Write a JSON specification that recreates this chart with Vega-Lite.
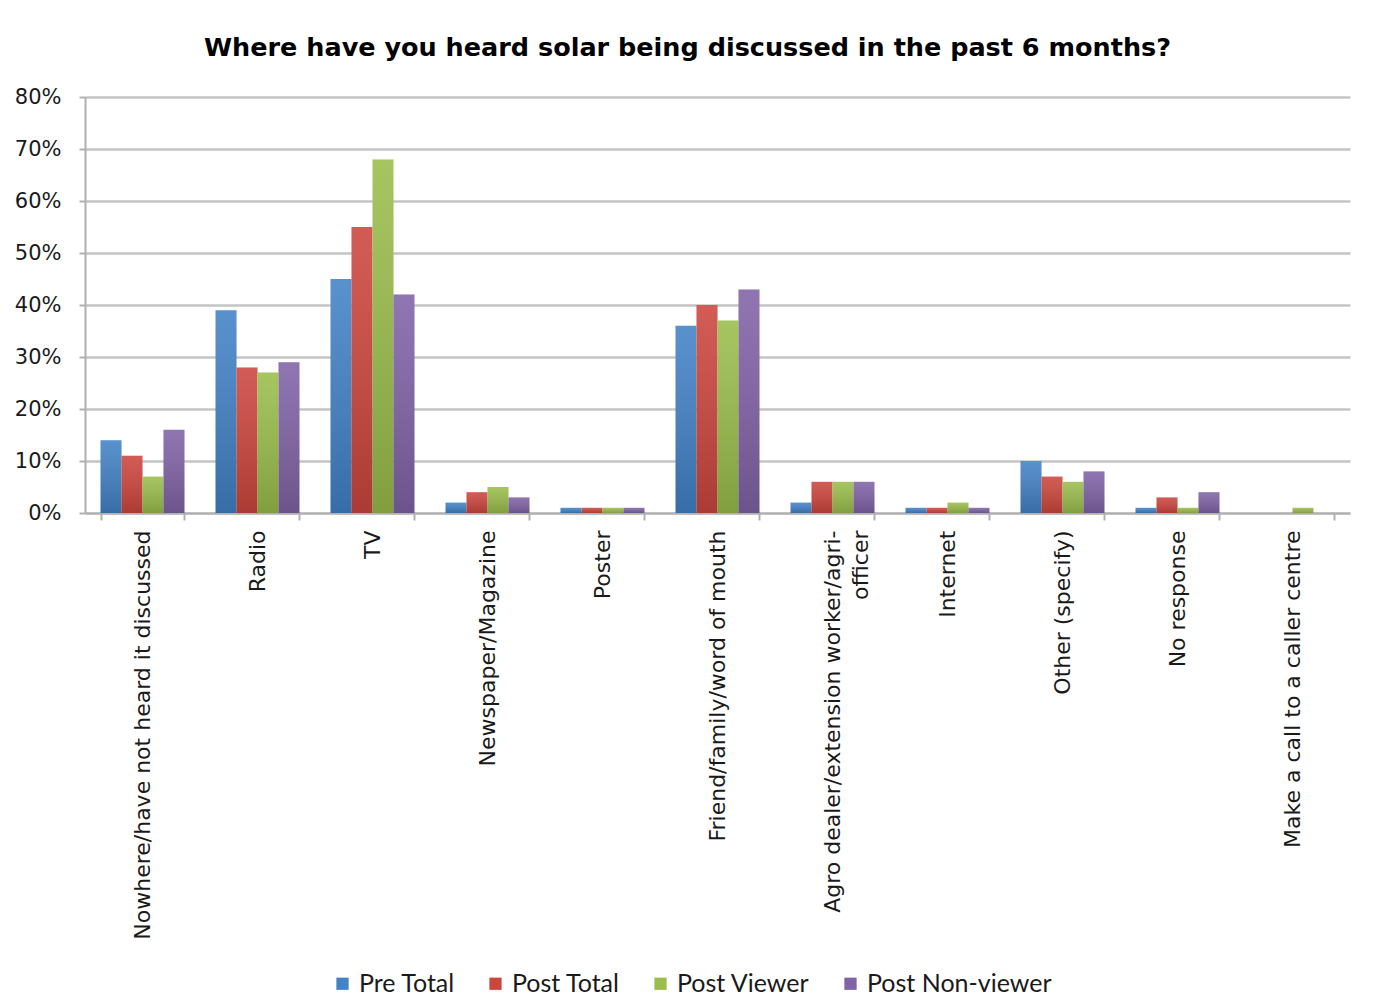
{
  "$schema": "https://vega.github.io/schema/vega-lite/v6.json",
  "autosize": {"type": "none"},
  "width": 1265,
  "height": 416,
  "padding": {"left": 85, "top": 97, "right": 23, "bottom": 495},
  "background": "white",
  "title": {
    "text": "Where have you heard solar being discussed in the past 6 months?",
    "font": "DejaVu Sans",
    "fontSize": 25.5,
    "fontWeight": "bold",
    "color": "#000000",
    "anchor": "middle",
    "dx": -30,
    "offset": 25
  },
  "data": {
    "values": [
      {"cat": "Nowhere/have not heard it discussed", "series": "Pre Total", "v": 0.14},
      {"cat": "Nowhere/have not heard it discussed", "series": "Post Total", "v": 0.11},
      {"cat": "Nowhere/have not heard it discussed", "series": "Post Viewer", "v": 0.07},
      {"cat": "Nowhere/have not heard it discussed", "series": "Post Non-viewer", "v": 0.16},
      {"cat": "Radio", "series": "Pre Total", "v": 0.39},
      {"cat": "Radio", "series": "Post Total", "v": 0.28},
      {"cat": "Radio", "series": "Post Viewer", "v": 0.27},
      {"cat": "Radio", "series": "Post Non-viewer", "v": 0.29},
      {"cat": "TV", "series": "Pre Total", "v": 0.45},
      {"cat": "TV", "series": "Post Total", "v": 0.55},
      {"cat": "TV", "series": "Post Viewer", "v": 0.68},
      {"cat": "TV", "series": "Post Non-viewer", "v": 0.42},
      {"cat": "Newspaper/Magazine", "series": "Pre Total", "v": 0.02},
      {"cat": "Newspaper/Magazine", "series": "Post Total", "v": 0.04},
      {"cat": "Newspaper/Magazine", "series": "Post Viewer", "v": 0.05},
      {"cat": "Newspaper/Magazine", "series": "Post Non-viewer", "v": 0.03},
      {"cat": "Poster", "series": "Pre Total", "v": 0.01},
      {"cat": "Poster", "series": "Post Total", "v": 0.01},
      {"cat": "Poster", "series": "Post Viewer", "v": 0.01},
      {"cat": "Poster", "series": "Post Non-viewer", "v": 0.01},
      {"cat": "Friend/family/word of mouth", "series": "Pre Total", "v": 0.36},
      {"cat": "Friend/family/word of mouth", "series": "Post Total", "v": 0.40},
      {"cat": "Friend/family/word of mouth", "series": "Post Viewer", "v": 0.37},
      {"cat": "Friend/family/word of mouth", "series": "Post Non-viewer", "v": 0.43},
      {"cat": "Agro dealer/extension worker/agri-officer", "series": "Pre Total", "v": 0.02},
      {"cat": "Agro dealer/extension worker/agri-officer", "series": "Post Total", "v": 0.06},
      {"cat": "Agro dealer/extension worker/agri-officer", "series": "Post Viewer", "v": 0.06},
      {"cat": "Agro dealer/extension worker/agri-officer", "series": "Post Non-viewer", "v": 0.06},
      {"cat": "Internet", "series": "Pre Total", "v": 0.01},
      {"cat": "Internet", "series": "Post Total", "v": 0.01},
      {"cat": "Internet", "series": "Post Viewer", "v": 0.02},
      {"cat": "Internet", "series": "Post Non-viewer", "v": 0.01},
      {"cat": "Other  (specify)", "series": "Pre Total", "v": 0.10},
      {"cat": "Other  (specify)", "series": "Post Total", "v": 0.07},
      {"cat": "Other  (specify)", "series": "Post Viewer", "v": 0.06},
      {"cat": "Other  (specify)", "series": "Post Non-viewer", "v": 0.08},
      {"cat": "No response", "series": "Pre Total", "v": 0.01},
      {"cat": "No response", "series": "Post Total", "v": 0.03},
      {"cat": "No response", "series": "Post Viewer", "v": 0.01},
      {"cat": "No response", "series": "Post Non-viewer", "v": 0.04},
      {"cat": "Make a call to a caller centre", "series": "Pre Total", "v": 0.0},
      {"cat": "Make a call to a caller centre", "series": "Post Total", "v": 0.0},
      {"cat": "Make a call to a caller centre", "series": "Post Viewer", "v": 0.01},
      {"cat": "Make a call to a caller centre", "series": "Post Non-viewer", "v": 0.0}
    ]
  },
  "encoding": {
    "x": {
      "field": "cat",
      "type": "nominal",
      "sort": null,
      "title": null,
      "scale": {"paddingInner": 0.27, "paddingOuter": 0.135},
      "axis": {
        "labelAngle": -90,
        "labelFont": "DejaVu Sans",
        "labelFontSize": 22,
        "labelColor": "#1a1a1a",
        "labelPadding": 10,
        "labelLimit": 600,
        "labelLineHeight": 28,
        "labelExpr": "datum.value == 'Agro dealer/extension worker/agri-officer' ? ['Agro dealer/extension worker/agri-', 'officer'] : datum.value",
        "tickBand": "extent",
        "tickSize": 7,
        "tickColor": "#b0b0b0",
        "tickWidth": 2,
        "domainColor": "#b0b0b0",
        "domainWidth": 2,
        "grid": false
      }
    },
    "xOffset": {"field": "series", "type": "nominal", "sort": ["Pre Total", "Post Total", "Post Viewer", "Post Non-viewer"]},
    "y": {
      "field": "v",
      "type": "quantitative",
      "title": null,
      "scale": {"domain": [0, 0.8], "nice": false},
      "axis": {
        "values": [0, 0.1, 0.2, 0.3, 0.4, 0.5, 0.6, 0.7, 0.8],
        "format": ".0%",
        "labelFont": "DejaVu Sans",
        "labelFontSize": 21,
        "labelColor": "#1a1a1a",
        "labelPadding": 18,
        "tickSize": 6,
        "tickColor": "#b0b0b0",
        "tickWidth": 2,
        "domainColor": "#b0b0b0",
        "domainWidth": 2,
        "gridColor": "#c4c4c4",
        "gridWidth": 2.5
      }
    }
  },
  "layer": [
    {
      "mark": {"type": "bar"},
      "encoding": {
        "color": {
          "field": "series",
          "type": "nominal",
          "sort": ["Pre Total", "Post Total", "Post Viewer", "Post Non-viewer"],
          "scale": {
            "domain": ["Pre Total", "Post Total", "Post Viewer", "Post Non-viewer"],
            "range": ["#4282c6", "#cc463e", "#9abd4b", "#8063a6"]
          },
          "legend": {
            "title": null,
            "orient": "none",
            "direction": "horizontal",
            "legendX": 245,
            "legendY": 874,
            "symbolType": "square",
            "symbolSize": 150,
            "symbolStrokeWidth": 0,
            "labelFont": "Lato",
            "labelFontSize": 25,
            "labelLimit": 400,
            "labelColor": "#1a1a1a",
            "labelOffset": 4,
            "columnPadding": 28
          }
        }
      }
    },
    {
      "mark": {
        "type": "bar",
        "fill": {
          "gradient": "linear",
          "x1": 0, "y1": 0, "x2": 0, "y2": 1,
          "stops": [
            {"offset": 0, "color": "rgba(255,255,255,0.12)"},
            {"offset": 1, "color": "rgba(0,0,0,0.16)"}
          ]
        }
      },
      "encoding": {}
    }
  ],
  "config": {
    "view": {"stroke": null}
  }
}
